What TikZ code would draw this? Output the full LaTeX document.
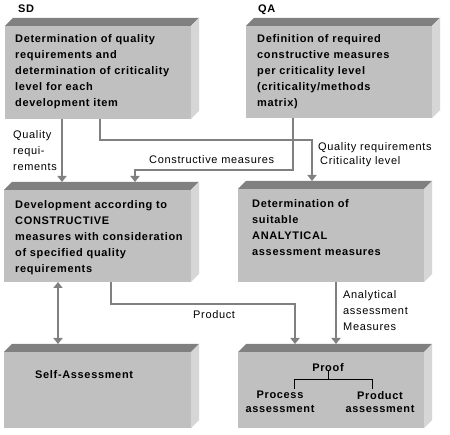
\documentclass[tikz,border=0pt]{standalone}
\usepackage{fontspec}
\setmainfont[LetterSpace=6]{Liberation Sans}
\usetikzlibrary{arrows.meta,calc}
\definecolor{frontc}{RGB}{192,192,192}
\definecolor{topc}{RGB}{128,128,128}
\definecolor{sidec}{RGB}{214,214,214}
\definecolor{linec}{RGB}{128,128,128}
\begin{document}
\begin{tikzpicture}[x=1pt,y=-1pt,
  face/.style={fill=frontc, draw=none, rectangle, inner sep=0pt, outer sep=0pt, anchor=north west},
  boxtext/.style={anchor=north west, align=left, inner sep=0pt, font=\fontsize{11}{16}\selectfont\bfseries},
  lbl/.style={anchor=north west, align=left, inner sep=0pt, font=\fontsize{11}{16}\selectfont},
  tip/.style={},
  conn/.style={draw=linec, line width=2pt, -{Triangle[width=9pt,length=6pt]}},
  twoway/.style={draw=linec, line width=2pt, {Triangle[width=9pt,length=6pt]}-{Triangle[width=9pt,length=6pt]}},
  tree/.style={draw=black, line width=1pt},
]
\useasboundingbox (0,0) rectangle (450,435);
\fill[white] (0,0) rectangle (450,435);

% front faces
\node[face, minimum width=186pt, minimum height=93pt] (b1) at (5,26) {};
\node[face, minimum width=186pt, minimum height=92pt] (b2) at (246,26) {};
\node[face, minimum width=187pt, minimum height=92pt] (b3) at (4,190) {};
\node[face, minimum width=186pt, minimum height=93pt] (b4) at (238,189) {};
\node[face, minimum width=187pt, minimum height=76pt] (b5) at (4,352) {};
\node[face, minimum width=186pt, minimum height=76pt] (b6) at (238,352) {};

% top and side faces
\foreach \b in {b1,b2,b3,b4,b5,b6}{
  \fill[topc] (\b.north west) -- ([shift={(8pt,8pt)}]\b.north west) -- ([shift={(8pt,8pt)}]\b.north east) -- (\b.north east) -- cycle;
  \fill[sidec] (\b.north east) -- ([shift={(8pt,8pt)}]\b.north east) -- ([shift={(8pt,8pt)}]\b.south east) -- (\b.south east) -- cycle;
}

% headers
\node[lbl, font=\fontsize{11}{16}\selectfont\bfseries] (sd) at (18,5) {SD};
\node[lbl, font=\fontsize{11}{16}\selectfont\bfseries] (qa) at (258,5) {QA};

% box texts
\node[boxtext] (t1) at (15,34) {Determination of quality\\requirements and\\determination of criticality\\level for each\\development item};
\node[boxtext] (t2) at (257,34) {Definition of required\\constructive measures\\per criticality level\\(criticality/methods\\matrix)};
\node[boxtext] (t3) at (15,200) {Development according to\\CONSTRUCTIVE\\measures with consideration\\of specified quality\\requirements};
\node[boxtext] (t4) at (252,199) {Determination of\\suitable\\ANALYTICAL\\assessment measures};
\node[boxtext] (t5) at (35,370) {Self-Assessment};
\node[boxtext, anchor=north] (proof) at (328,363) {Proof};
\node[boxtext, anchor=north, align=center, font=\fontsize{11}{13.5}\selectfont\bfseries] (proc) at (280,391) {Process\\assessment};
\node[boxtext, anchor=north, align=center, font=\fontsize{11}{13.5}\selectfont\bfseries] (prod) at (380,391) {Product\\assessment};

% proof tree
\coordinate (tj) at ($(proof.south)+(0,8)$);
\draw[tree] (proof.south) -- (tj);
\draw[tree] ([xshift=14pt,yshift=2pt]proc.north) |- (tj) -| ([xshift=-8pt,yshift=2pt]prod.north);

% connectors
\draw[conn] ([xshift=57pt]b1.south west) -- ([xshift=58pt,yshift=8pt]b3.north west);
\draw[conn] ([xshift=95pt]b1.south west) -- ++(0,21) -| ([xshift=74pt,yshift=8pt]b4.north west);
\draw[conn] ([xshift=47pt]b2.south west) -- ++(0,52) -| ([xshift=131pt,yshift=8pt]b3.north west);
\draw[twoway] ([xshift=54pt]b3.south west) -- ([xshift=54pt,yshift=8pt]b5.north west);
\draw[conn] ([xshift=107pt]b3.south west) -- ++(0,22) -| ([xshift=57pt,yshift=8pt]b6.north west);
\draw[conn] ([xshift=98pt]b4.south west) -- ([xshift=98pt,yshift=8pt]b6.north west);

% labels
\node[lbl] (lq) at (13,130) {Quality\\requi-\\rements};
\node[lbl] (lc) at (149,155) {Constructive measures};
\node[lbl, font=\fontsize{11}{14.5}\selectfont] (lqr) at (318,142) {Quality requirements\\\hspace*{2pt}Criticality level};
\node[lbl] (lp) at (193,310) {Product};
\node[lbl] (la) at (343,290) {Analytical\\assessment\\Measures};
\end{tikzpicture}
\end{document}
